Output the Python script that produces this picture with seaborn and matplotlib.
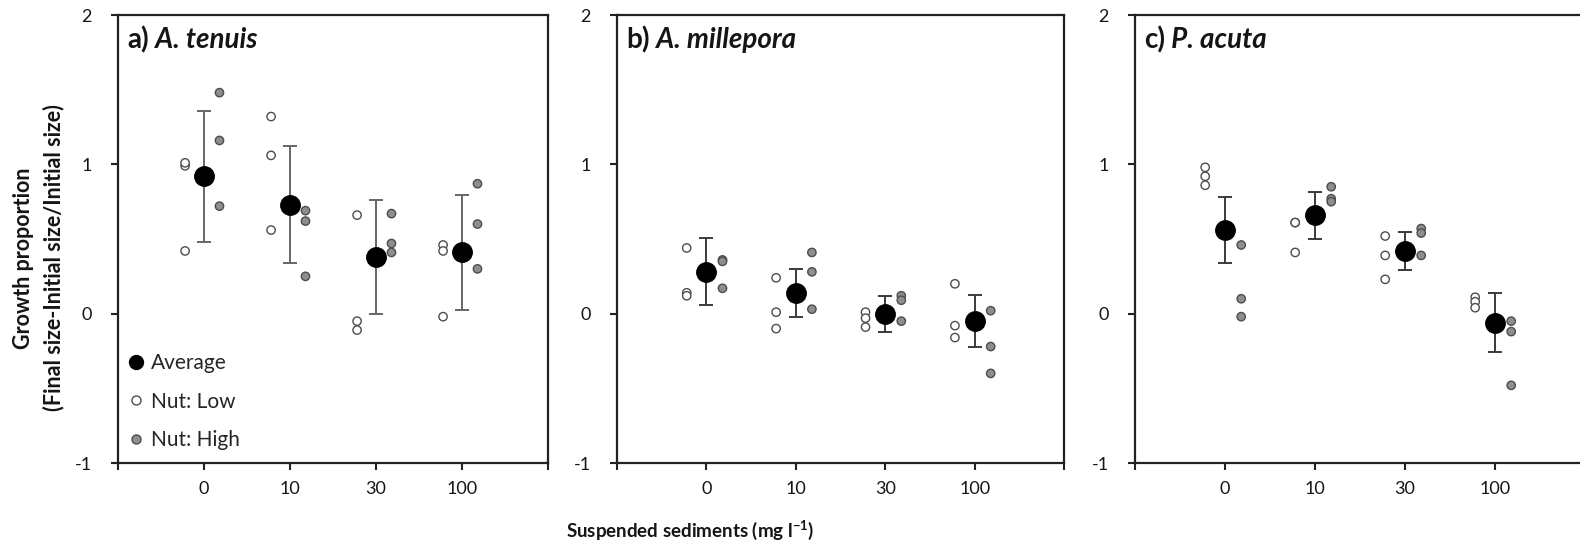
import numpy as np
import pandas as pd
import matplotlib
matplotlib.use("Agg")
import matplotlib.pyplot as plt
import seaborn as sns
from matplotlib.lines import Line2D

# ---------------- data ----------------
categories = ["0", "10", "30", "100"]
panel_labels = ["a)", "b)", "c)"]
species = ["A. tenuis", "A. millepora", "P. acuta"]

# averages and error (half-width) per sediment level
avg_tenuis = [0.92, 0.73, 0.38, 0.41]
err_tenuis = [0.44, 0.39, 0.38, 0.385]
avg_millepora = [0.28, 0.14, 0.00, -0.05]
err_millepora = [0.225, 0.16, 0.12, 0.173]
avg_acuta = [0.56, 0.66, 0.42, -0.06]
err_acuta = [0.222, 0.157, 0.13, 0.197]

# individual replicates: low nutrient (open) and high nutrient (grey)
low_tenuis = [[0.99, 1.01, 0.42], [1.32, 1.06, 0.56], [0.66, -0.05, -0.11], [0.46, 0.42, -0.02]]
high_tenuis = [[1.48, 1.16, 0.72], [0.69, 0.62, 0.25], [0.67, 0.47, 0.41], [0.87, 0.60, 0.30]]
low_millepora = [[0.44, 0.14, 0.12], [0.24, 0.01, -0.10], [0.01, -0.03, -0.09], [0.20, -0.08, -0.16]]
high_millepora = [[0.36, 0.35, 0.17], [0.41, 0.28, 0.03], [0.12, 0.09, -0.05], [0.02, -0.22, -0.40]]
low_acuta = [[0.98, 0.92, 0.86], [0.61, 0.61, 0.41], [0.52, 0.39, 0.23], [0.11, 0.08, 0.04]]
high_acuta = [[0.46, 0.10, -0.02], [0.85, 0.77, 0.75], [0.57, 0.54, 0.39], [-0.05, -0.12, -0.48]]

yticks = [-1, 0, 1, 2]
ylabel = "Growth proportion\n(Final size-Initial size/Initial size)"
xlabel = r"Suspended sediments (mg l$^{\mathbf{-1}}$)"

avgs = [avg_tenuis, avg_millepora, avg_acuta]
errs = [err_tenuis, err_millepora, err_acuta]
lows = [low_tenuis, low_millepora, low_acuta]
highs = [high_tenuis, high_millepora, high_acuta]

# ---------------- style ----------------
sns.set_theme(style="white")
plt.rcParams["font.family"] = ["Lato", "DejaVu Sans"]
plt.rcParams["mathtext.fontset"] = "custom"
plt.rcParams["mathtext.rm"] = "Lato"
plt.rcParams["mathtext.bf"] = "Lato:bold"
plt.rcParams["mathtext.it"] = "Lato:italic"

W, H = 1580, 557
fig = plt.figure(figsize=(W / 100, H / 100), dpi=100)
bottom = 1 - 463 / H
height = (463 - 15) / H
lefts = [118, 617, 1135]
widths = [430, 447, 450]

LOW_OFF, HIGH_OFF = -0.22, 0.18
low_c, high_c, edge_c = "white", "#8e8e8e", "#4d4d4d"
err_cols = ["#666666", "#3a3a3a", "#3a3a3a"]
txt_c = "#151515"

for i in range(3):
    ax = fig.add_axes([lefts[i] / W, bottom, widths[i] / W, height])
    pos = np.arange(1, len(categories) + 1)

    rows = []
    for g in range(len(categories)):
        for v in lows[i][g]:
            rows.append({"x": pos[g] + LOW_OFF, "y": v, "nut": "Nut: Low"})
        for v in highs[i][g]:
            rows.append({"x": pos[g] + HIGH_OFF, "y": v, "nut": "Nut: High"})
    df = pd.DataFrame(rows)

    sns.scatterplot(data=df, x="x", y="y", hue="nut",
                    palette={"Nut: Low": low_c, "Nut: High": high_c},
                    edgecolor=edge_c, linewidth=1.0, s=36, legend=False,
                    ax=ax, zorder=3)
    ax.errorbar(pos, avgs[i], yerr=errs[i], fmt="o", color="black", ms=14,
                ecolor=err_cols[i], elinewidth=1.4, capsize=5, capthick=1.4,
                zorder=4)

    ax.set_xlim(0, 5)
    ax.set_ylim(-1, 2)
    ax.set_xticks(np.arange(0, 6))
    ax.set_xticklabels([""] + categories + [""])
    ax.set_yticks(yticks)
    ax.set_yticklabels([str(t) for t in yticks])
    ax.tick_params(axis="both", which="major", bottom=True, left=True,
                   direction="out", length=5, width=1.5, color="#222222",
                   labelsize=13, labelcolor=txt_c)
    ax.tick_params(axis="x", pad=8)
    ax.tick_params(axis="y", pad=14)
    for s in ax.spines.values():
        s.set_visible(True)
        s.set_color("#222222")
        s.set_linewidth(1.6)
    ax.set_xlabel("")
    ax.set_ylabel("")

    t1 = ax.text(0.021, 0.926, panel_labels[i], transform=ax.transAxes,
                 fontsize=20, fontweight="bold", ha="left", va="baseline",
                 color=txt_c)
    ax.annotate(" " + species[i], xy=(1, 0), xycoords=t1, va="bottom",
                ha="left", fontsize=20, fontweight="bold", fontstyle="italic",
                color=txt_c)

    if i == 0:
        ax.set_ylabel(ylabel, fontsize=15.5, fontweight="bold", linespacing=1.5,
                      color=txt_c)
        ax.yaxis.set_label_coords(-0.124, 0.458)
        handles = [
            Line2D([], [], marker="o", ls="none", color="black", ms=10),
            Line2D([], [], marker="o", ls="none", mfc=low_c, mec=edge_c, mew=1.0, ms=6.5),
            Line2D([], [], marker="o", ls="none", mfc=high_c, mec=edge_c, mew=1.0, ms=6.5),
        ]
        ax.legend(handles, ["Average", "Nut: Low", "Nut: High"], loc="upper left",
                  bbox_to_anchor=(0.012, 0.255), frameon=False, fontsize=15,
                  handlelength=0.8, handletextpad=0.35, labelspacing=0.9,
                  borderpad=0.2, borderaxespad=0.0)

fig.text(690 / W, 1 - 530 / H, xlabel, ha="center", va="center", fontsize=13.5,
         fontweight="bold", color=txt_c)

fig.savefig("out.png", dpi=100, facecolor="white")
